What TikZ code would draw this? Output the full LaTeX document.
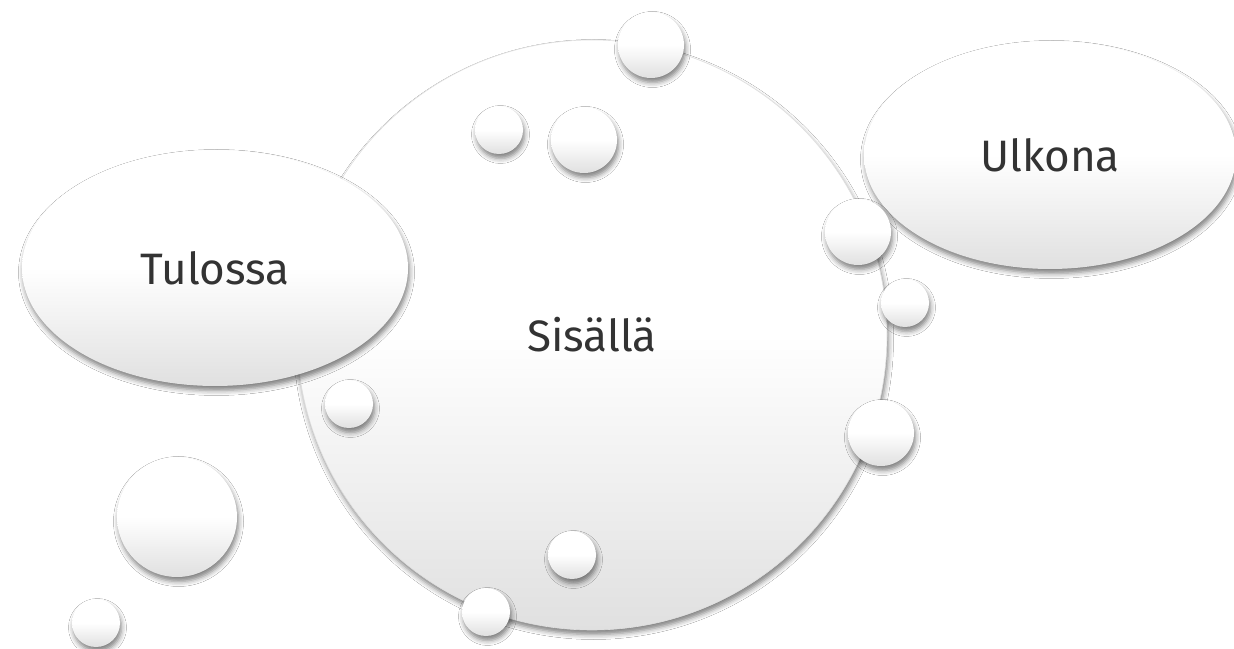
\documentclass[tikz,border=0pt]{standalone}
\usepackage{fontspec}
\setmainfont{Fira Sans}
\usetikzlibrary{shapes.geometric,shadows.blur}
\definecolor{bubblegray}{HTML}{E0E0E0}
\definecolor{txt}{HTML}{333333}
\pgfdeclareverticalshading{bubble}{100bp}{color(0bp)=(bubblegray); color(25bp)=(bubblegray); color(50bp)=(white); color(100bp)=(white)}
\tikzset{
  sh/.style={blur shadow={shadow xshift=1.5pt, shadow yshift=-4.5pt, shadow blur radius=5pt, shadow opacity=50}},
  ball/.style={circle, inner sep=0pt, shading=bubble, sh},
  cloud/.style={ellipse, inner sep=0pt, shading=bubble, sh, text=txt, font=\fontsize{44}{52}\selectfont},
}
\begin{document}
\begin{tikzpicture}[x=1pt,y=1pt]
\useasboundingbox (0,0) rectangle (1234,648);
\fill[white] (0,0) rectangle (1234,648);
\node[cloud, minimum size=590pt, draw=gray!25, line width=0.6pt] (sis) at (592,313) {Sisällä};
\node[cloud, minimum width=386pt, minimum height=236pt] (tul) at (215,380) {Tulossa};
\node[cloud, minimum width=372pt, minimum height=228pt] (ulk) at (1050,493) {Ulkona};
\node[ball, minimum size=66pt] (b1) at (651,603) {};
\node[ball, minimum size=48pt] (b2) at (499,518) {};
\node[ball, minimum size=66pt] (b3) at (584,508) {};
\node[ball, minimum size=66pt] (b4) at (858,416) {};
\node[ball, minimum size=48pt] (b5) at (905,345) {};
\node[ball, minimum size=66pt] (b6) at (881,215) {};
\node[ball, minimum size=48pt] (b7) at (349,244) {};
\node[ball, minimum size=120pt] (b8) at (177,131) {};
\node[ball, minimum size=48pt] (b9) at (96,25) {};
\node[ball, minimum size=48pt] (b10) at (572,93) {};
\node[ball, minimum size=48pt] (b11) at (486,36) {};
\end{tikzpicture}
\end{document}
